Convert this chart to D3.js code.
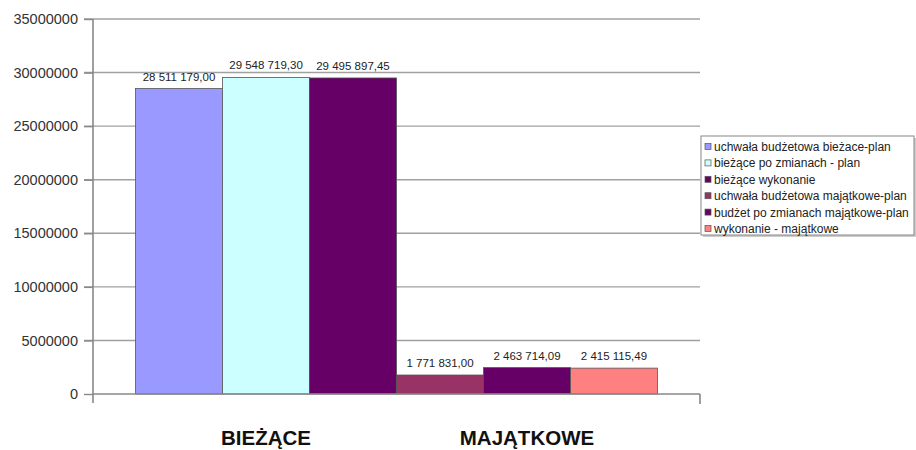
<!DOCTYPE html>
<html>
<head>
<meta charset="utf-8">
<script src="https://cdn.jsdelivr.net/npm/d3@7"></script>
<style>
  body { margin: 0; background: #fff; }
  svg { display: block; font-family: "Liberation Sans", Arial, sans-serif; }
</style>
</head>
<body>
<svg id="chart" width="916" height="450"></svg>
<script>
const categories = ["BIEŻĄCE", "MAJĄTKOWE"];
const seriesNames = [
  "uchwała budżetowa bieżace-plan",
  "bieżące po zmianach - plan",
  "bieżące wykonanie",
  "uchwała budżetowa majątkowe-plan",
  "budżet po zmianach majątkowe-plan",
  "wykonanie - majątkowe"
];
const seriesValues = [28511179.00, 29548719.30, 29495897.45, 1771831.00, 2463714.09, 2415115.49];
const seriesCategory = ["BIEŻĄCE", "BIEŻĄCE", "BIEŻĄCE", "MAJĄTKOWE", "MAJĄTKOWE", "MAJĄTKOWE"];
const seriesColors = ["#9999ff", "#ccffff", "#660066", "#993366", "#660066", "#ff8080"];
const yTicks = [0, 5000000, 10000000, 15000000, 20000000, 25000000, 30000000, 35000000];

const svg = d3.select('#chart');

const plotL = 93, plotR = 700, plotT = 19, plotB = 394;

const yScale = d3.scaleLinear().domain([0, 35000000]).range([plotB, plotT]);
const x0 = d3.scaleBand().domain(categories).range([plotL, plotR])
  .paddingInner(0).paddingOuter(0.163);

const pl = d3.formatLocale({ decimal: ",", thousands: " ", grouping: [3], currency: ["", ""] });
const fmt = pl.format(",.2f");

// gridlines
svg.append('g')
  .selectAll('line')
  .data(yTicks.filter(d => d > 0))
  .join('line')
  .attr('x1', plotL - 9).attr('x2', plotR)
  .attr('y1', d => yScale(d)).attr('y2', d => yScale(d))
  .attr('stroke', '#a0a0a0').attr('stroke-width', 1.4);

// bars
const rows = seriesValues.map((v, i) => ({ name: seriesNames[i], value: v, cat: seriesCategory[i], color: seriesColors[i] }));
rows.forEach(r => { r.slot = rows.filter(o => o.cat === r.cat).indexOf(r); });

const x1 = d3.scaleBand().domain([0, 1, 2]).range([0, x0.bandwidth()]);

svg.append('g')
  .selectAll('rect')
  .data(rows)
  .join('rect')
  .attr('x', d => x0(d.cat) + x1(d.slot))
  .attr('y', d => yScale(d.value))
  .attr('width', x1.bandwidth())
  .attr('height', d => yScale(0) - yScale(d.value))
  .attr('fill', d => d.color)
  .attr('stroke', '#555')
  .attr('stroke-width', 0.8);

svg.append('g')
  .selectAll('text')
  .data(rows)
  .join('text')
  .attr('x', d => x0(d.cat) + x1(d.slot) + x1.bandwidth() / 2)
  .attr('y', d => yScale(d.value) - 8)
  .attr('text-anchor', 'middle')
  .attr('font-size', 11.5)
  .attr('fill', '#222')
  .text(d => fmt(d.value));

// y axis
const yAxis = d3.axisLeft(yScale).tickValues(yTicks).tickSize(9).tickPadding(6).tickFormat(d => d);
const gy = svg.append('g').attr('transform', `translate(${plotL},0)`).call(yAxis);
gy.select('.domain').remove();
gy.selectAll('.tick line').attr('stroke', '#888').attr('stroke-width', 1.4);
gy.selectAll('.tick text').attr('font-size', 14.5).attr('fill', '#333')
  .attr('font-family', '"Liberation Sans", Arial, sans-serif');

svg.append('line')
  .attr('x1', plotL).attr('x2', plotL).attr('y1', plotT).attr('y2', plotB + 9)
  .attr('stroke', '#888').attr('stroke-width', 1.6);

// x axis
svg.append('line')
  .attr('x1', plotL).attr('x2', plotR).attr('y1', plotB).attr('y2', plotB)
  .attr('stroke', '#888').attr('stroke-width', 1.4);
svg.append('line')
  .attr('x1', plotR).attr('x2', plotR).attr('y1', plotB).attr('y2', plotB + 10)
  .attr('stroke', '#888').attr('stroke-width', 1.6);

svg.append('g')
  .selectAll('text')
  .data(categories)
  .join('text')
  .attr('x', d => x0(d) + x0.bandwidth() / 2)
  .attr('y', 445)
  .attr('text-anchor', 'middle')
  .attr('font-size', 20.5)
  .attr('font-weight', 'bold')
  .attr('fill', '#111')
  .text(d => d);

// legend
const lg = svg.append('g').attr('transform', 'translate(701,136)');
lg.append('rect').attr('x', 2).attr('y', 2).attr('width', 213).attr('height', 99)
  .attr('fill', '#ccc');
lg.append('rect').attr('x', 0).attr('y', 0).attr('width', 213).attr('height', 99)
  .attr('fill', '#fff').attr('stroke', '#888').attr('stroke-width', 1);

const item = lg.selectAll('g.item')
  .data(rows)
  .join('g')
  .attr('class', 'item')
  .attr('transform', (d, i) => `translate(4, ${11 + i * 16.4})`);

item.append('rect')
  .attr('x', 0).attr('y', -3.5).attr('width', 6).attr('height', 6)
  .attr('fill', d => d.color).attr('stroke', '#555').attr('stroke-width', 0.7);

item.append('text')
  .attr('x', 9).attr('y', 4)
  .attr('font-size', 12)
  .attr('fill', '#222')
  .text(d => d.name);
</script>
</body>
</html>
